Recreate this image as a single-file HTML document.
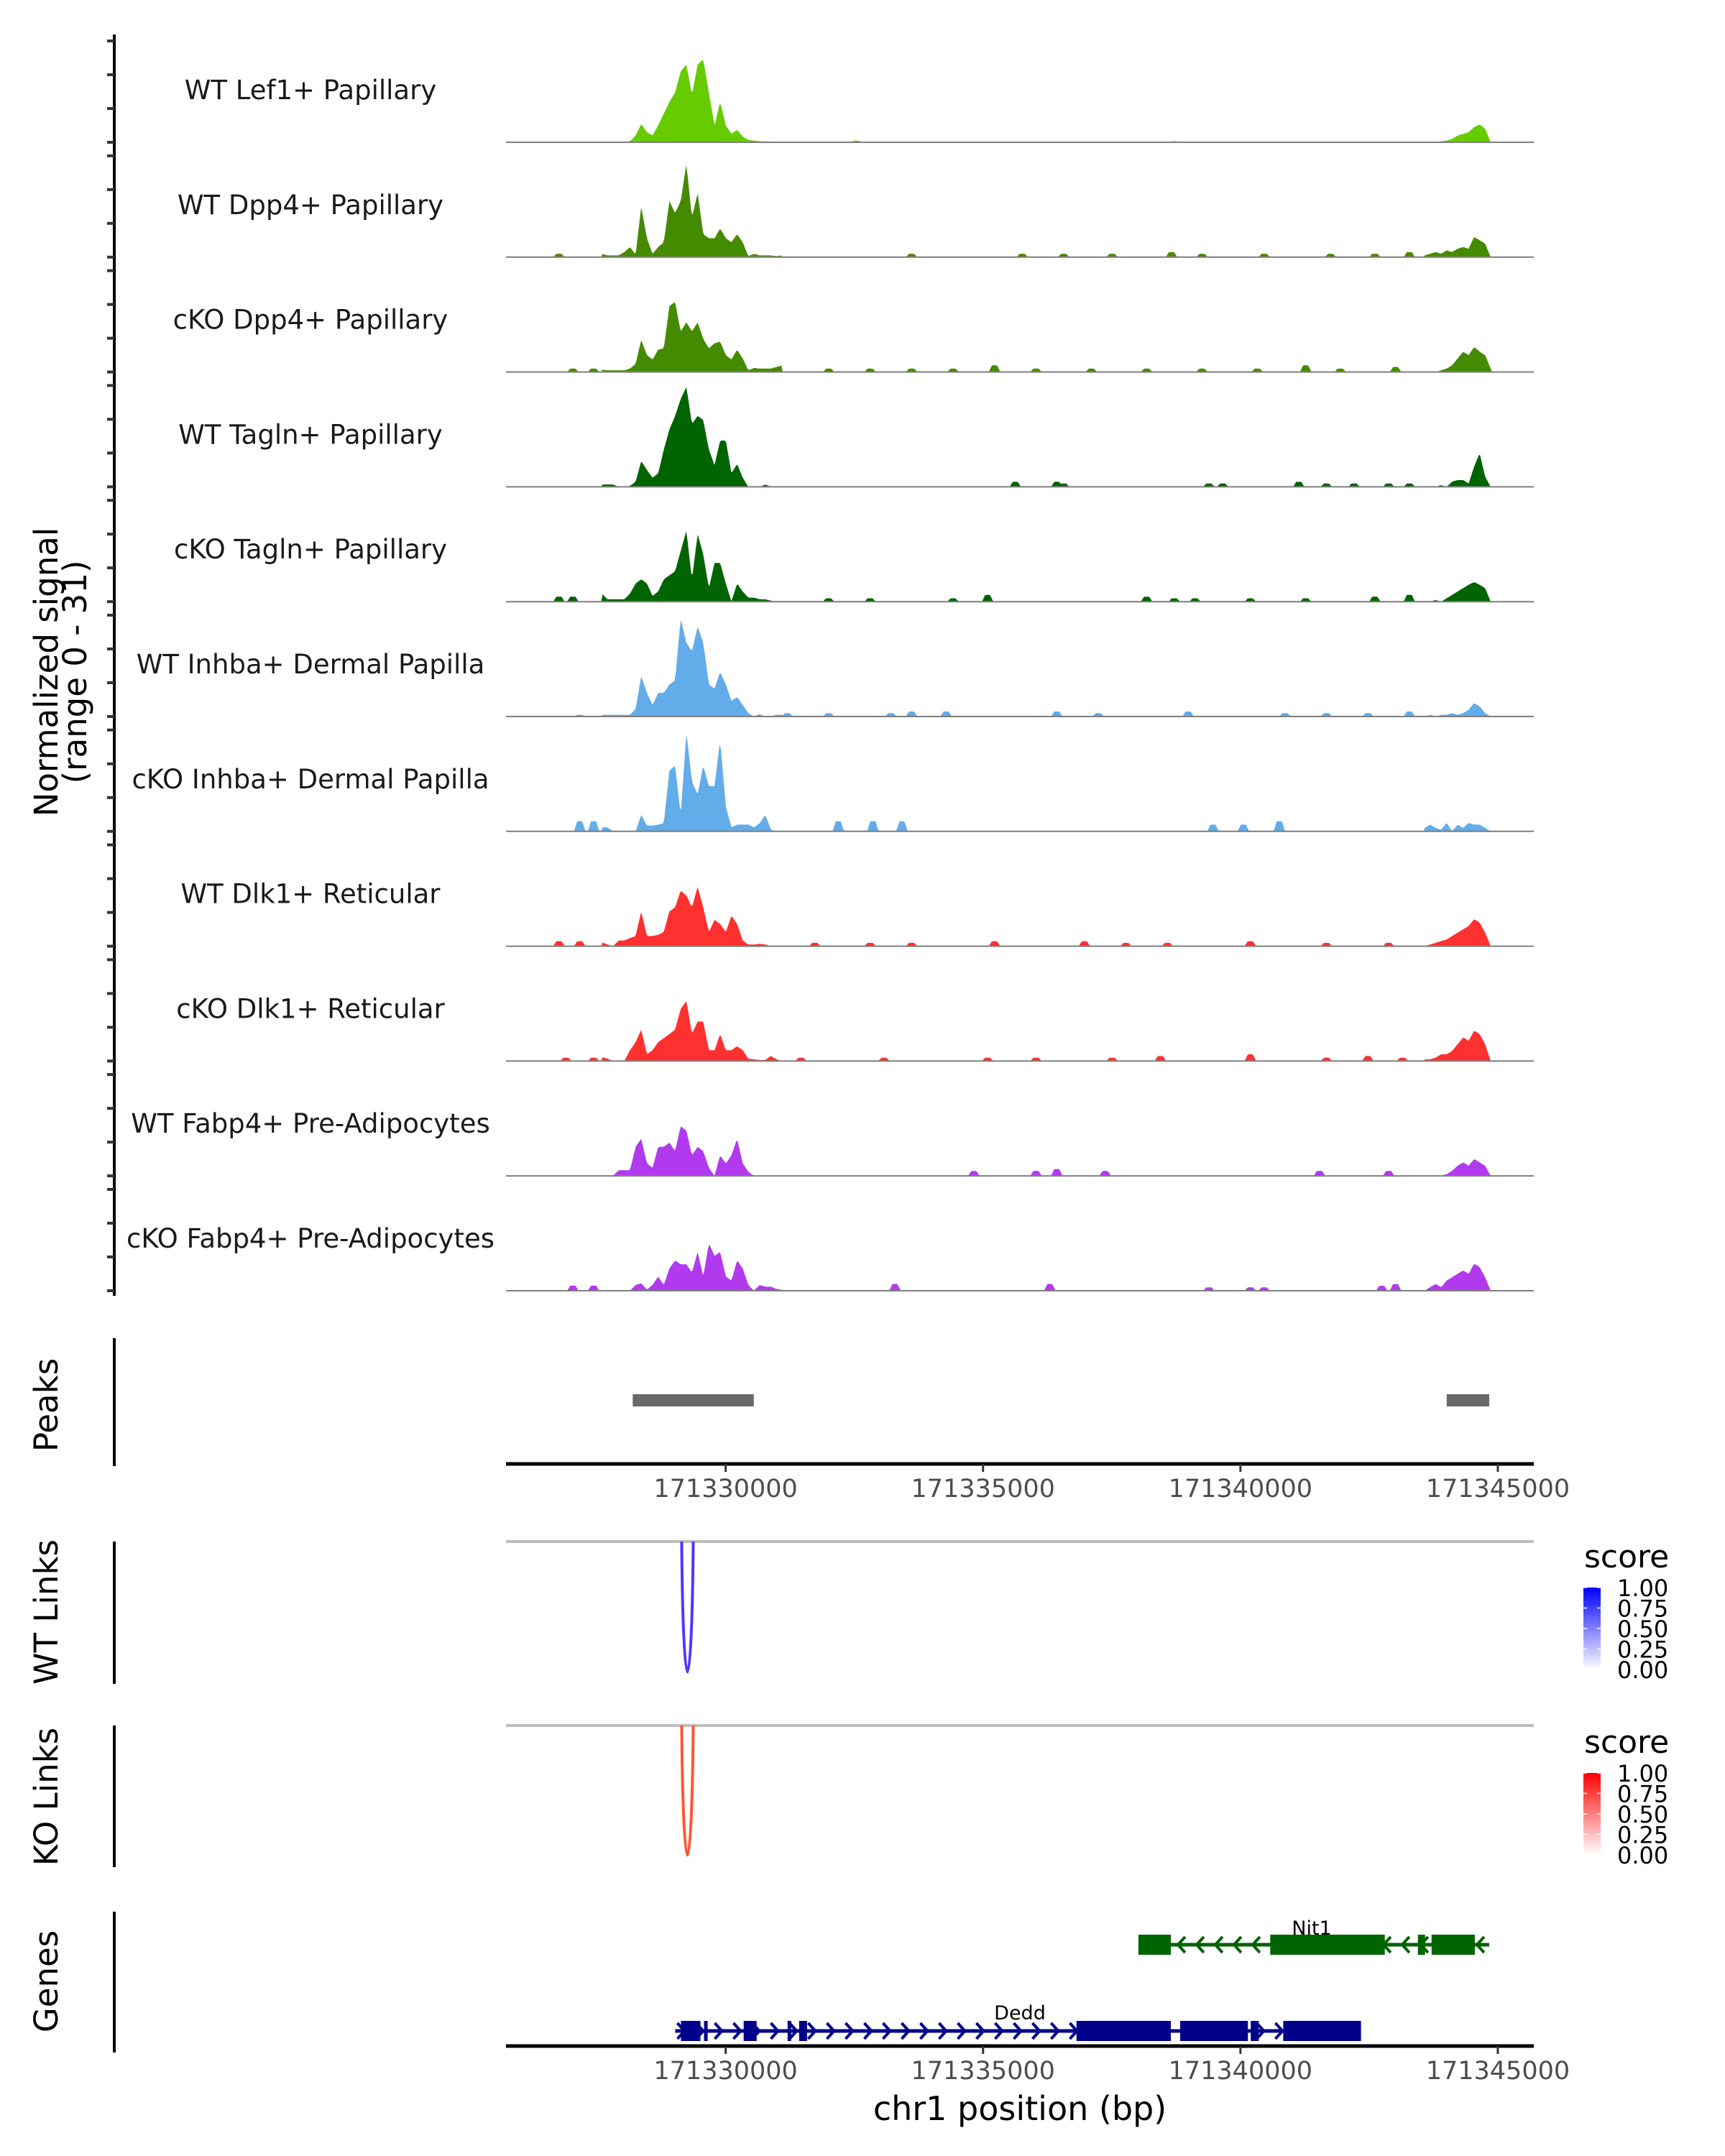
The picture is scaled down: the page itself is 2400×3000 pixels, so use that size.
<!DOCTYPE html>
<html><head><meta charset="utf-8">
<style>
html,body{margin:0;padding:0;background:#fff;}
svg{display:block;}
text{font-family:"DejaVu Sans","Liberation Sans",sans-serif;}
</style></head>
<body>
<svg id="chart" width="2400" height="3000" viewBox="0 0 2400 3000" xmlns="http://www.w3.org/2000/svg">
<rect x="0" y="0" width="2400" height="3000" fill="#fff"/>
<g id="tracks"></g>
<g id="lower"></g>
</svg>
<script>
// ---- data ----
const trackLabels = ["WT Lef1+ Papillary","WT Dpp4+ Papillary","cKO Dpp4+ Papillary","WT Tagln+ Papillary","cKO Tagln+ Papillary","WT Inhba+ Dermal Papilla","cKO Inhba+ Dermal Papilla","WT Dlk1+ Reticular","cKO Dlk1+ Reticular","WT Fabp4+ Pre-Adipocytes","cKO Fabp4+ Pre-Adipocytes"];
const trackColors = ["#66CC00","#458B00","#458B00","#006400","#006400","#63ACEA","#63ACEA","#FF3030","#FF3030","#B23AEE","#B23AEE"];
const mainStart = 171327594, mainStep = 109.5;
const mainVals = [
[0.2,0.2,0.2,0.2,0.2,0.3,2,5.4,3,2,5,8.5,12,14.7,21,23,14,23,24.5,14.7,5,12,5,2.5,3.7,1.7,0.7,0.5,0.3,0.3,0.2,0.2,0.1],
[1,0.5,0.5,0.5,1.5,3,0.7,15,5.6,1,3,4.4,16.6,13,16.6,27.6,11.7,19,6.8,5.6,5.6,8.5,5.6,4.4,6.8,4.4,0.3,1,0.5,0.5,0.5,0.3,0.5],
[0.7,0.5,0.5,0.5,0.5,1,2.4,9.5,5,3.7,6.6,7,19.5,20.8,12,14.7,12,14.7,9.8,7,8.5,9,5,3.7,6.6,4,0.5,1.2,1,1,1,1.5,2],
[0.7,0.7,0.7,0,0,0.3,1.5,7.6,5,2.7,4,11,17,21,26,29.6,18.6,21,19.8,11,6.4,13.7,13.7,4,6.8,2.7,0,0,0,0.7,0,0,0],
[2.4,0.7,0.7,0.7,0.7,2.4,5.4,6.6,5.4,1.7,3,6.6,7.8,9,15,21,6.6,20,14,4,11.5,11.5,5.4,0,5.4,3,1.2,1.2,0.7,0.7,0.3,0,0],
[0.5,0.5,0.5,0.5,0.5,0.5,2.2,12,7,3.4,7,7,9.5,10.7,29,21.8,19.3,26.6,21.8,9.5,8.3,13.2,9.5,4.6,5.8,3.4,1,0,0.7,0,0,0.5,0.5],
[1.2,1.2,0,0,0,0,0,4.9,1.7,1.7,2,2.4,18,19.5,4.9,29.3,14.7,11,19.5,13.4,13.4,27,7.3,1.2,2,2,2,1.2,2.4,4.9,0.5,0,0],
[1.2,0.5,0,1.7,1.7,2.4,3,10.3,3,3,3.4,4.2,10.3,11.5,16.4,15,11.5,17.6,11.5,4.2,7.8,6.6,4.2,9,6.6,1.7,0.5,0.5,0.7,0.5,0,0,0],
[1.2,0.7,0,0,0,3.2,5.6,9.3,2,3.2,5.6,6.8,8,9.3,15.4,17.8,8,11.7,11.7,3.2,3.2,8,3.2,3.2,4.4,3.2,0.7,0.5,0.3,0.3,1.5,0.5,0],
[0,0,0,1.7,1.7,1.7,8.6,11,3.7,2.4,8.6,8.6,9.8,7.3,14.7,13.4,6.1,8.6,7.3,2.4,0,6.1,3.7,6.1,11,3.7,1.2,0,0,0,0,0,0],
[0,0,0,0,0,0,1.7,2.2,0.3,1.7,4.2,1.7,6.6,9,7.8,7.8,5.4,11.5,4.2,14,10.3,11.5,4.2,3,9,6.6,1.7,0,1.7,1.2,1.2,0.5,0.3]
];
const rightStart = 171343577, rightStep = 107;
const rightVals = [
[0,0,0,0.3,0.5,1,2,2.5,3,4.5,5.3,4,0],
[0.5,1,1.5,1,2,1.5,2.5,3,2.5,6,5,4,0],
[0,0,0,0.5,1,2,4,6,5,7.4,6,5,1],
[0,0,0,0.5,0,1.5,2,2,1,6,10,3,0],
[0,0,0.5,0,1,2,3,4,5,5.8,5,4,0],
[0,0.5,0,0.5,0.5,1,0.5,1,2,4,3,1,0],
[1,2,1,0.5,2.5,0,2,1,2.5,2,2,1,0],
[0,0.5,1,1.5,2,3,4,5,6,8,7,4,0],
[0.5,0.5,1,2,2,3,5,7,6,9,8,5,0],
[0,0,0,0,0.5,1.5,3,4,3,5,4,3,0],
[0,1,2,1,3,4,5,6,5,8,7,4,0]
];
const bumpPos = [
[171332537,171338715],
[171326762,171333612,171335760,171336566,171337507,171338661,171339252,171340461,171341751,171342611,171343281],
[171327031,171327434,171332000,171332806,171333612,171334418,171335223,171336029,171337103,171338178,171339252,171340327,171341267,171341939,171343013],
[171335626,171336432,171336566,171339387,171339655,171341132,171341670,171342207,171342879,171343281],
[171326762,171327031,171332000,171332806,171334418,171335089,171338178,171338715,171339118,171340192,171341267,171342611,171343281],
[171327165,171331194,171332000,171333209,171333612,171334283,171336432,171337238,171338984,171340864,171341670,171342476,171343281],
[171327165,171327434,171332188,171332860,171333424,171339467,171340058,171340756],
[171326762,171327165,171331731,171332806,171333612,171335223,171336969,171337775,171338581,171340192,171341670,171342879],
[171326897,171327434,171331463,171333074,171335089,171336029,171337507,171338446,171340192,171341670,171342476,171343148],
[171334821,171336029,171336432,171337372,171341536,171342879],
[171327031,171327434,171333289,171336298,171339387,171340192,171340461,171342745,171343013]
];
const bumpVals = [
[0.5,0.3],
[1,1,1,1,1,1.5,1,1,1,1,1.5],
[1,1,1,1,1,1,2,1,1,1,1,1,2,1,1.5],
[1.5,1.5,1,1,1,1.5,1,1,1,1],
[1.5,1.5,1,1,1,2,1.5,1,1,1,1,1.5,2],
[0.5,1,1,1,1.5,1.5,1.5,1,1.5,1,1,1,1.5],
[3,3,3,3,3,2,2,3],
[1.5,1.5,1,1,1,1.5,1.5,1,1,1.5,1,1],
[1,1,1,1,1,1,1,1.5,2,1,1.5,1],
[1.5,1.5,2,1.5,1.5,1.5],
[1.5,1.5,2,2,1,1,1,1.5,2]
];
const yTicks = [0,10,20,30];
const xTicks = [171330000,171335000,171340000,171345000];
const peakStarts = [171328195,171344007];
const peakEnds = [171330546,171344833];
const linkStart = [171329146];
const linkEnd = [171329370];
const wtLinkScore = [0.85];
const koLinkScore = [0.85];
const legendTicks = ["1.00","0.75","0.50","0.25","0.00"];
const nit1Range = [171338018,171344833];
const nit1ExonStart = [171338018,171340579,171343447,171343713];
const nit1ExonEnd = [171338648,171342804,171343587,171344553];
const deddRange = [171329020,171342342];
const deddExonStart = [171329132,171329580,171330350,171331203,171331427,171336815,171338830,171340201,171340831];
const deddExonEnd = [171329510,171329650,171330602,171331273,171331581,171338648,171340145,171340355,171342342];

// ---- scales ----
const X0 = 704, X1 = 2134, BP0 = 171325733, BP1 = 171345699;
function xs(bp){ return X0 + (bp-BP0)/(BP1-BP0)*(X1-X0); }
const base0 = 198, trackGap = 159.8, pxPerUnit = 4.7;
function ys(i,v){ return base0 + i*trackGap - Math.min(v,31)*pxPerUnit; }
const NS = "http://www.w3.org/2000/svg";
function mk(tag, attrs, parent){ const e=document.createElementNS(NS,tag); for(const k in attrs) e.setAttribute(k,attrs[k]); parent.appendChild(e); return e; }

const tracks = document.getElementById('tracks');
const lower = document.getElementById('lower');

function signalAt(i, bp){
  let v = 0;
  const mv = mainVals[i]; const mEnd = mainStart + (mv.length-1)*mainStep;
  if(bp>=mainStart && bp<=mEnd){ const f=(bp-mainStart)/mainStep; const k=Math.floor(f); const t=f-k; v=Math.max(v, mv[k]*(1-t)+(mv[Math.min(k+1,mv.length-1)])*t); }
  const rv = rightVals[i]; const rEnd = rightStart+(rv.length-1)*rightStep;
  if(bp>=rightStart && bp<=rEnd){ const f=(bp-rightStart)/rightStep; const k=Math.floor(f); const t=f-k; v=Math.max(v, rv[k]*(1-t)+(rv[Math.min(k+1,rv.length-1)])*t); }
  const bpz=bumpPos[i], bvz=bumpVals[i];
  for(let j=0;j<bpz.length;j++){ const d=Math.abs(bp-bpz[j]); if(d<110) v=Math.max(v, bvz[j]*(d<50?1:(110-d)/60)); }
  return v;
}

const yAxis = mk('line',{x1:159,y1:48,x2:159,y2:1803,stroke:'#000','stroke-width':4},tracks);



for(let i=0;i<trackLabels.length;i++){
  const g = mk('g',{},tracks);
  
  
  const base = base0 + i*trackGap;
  let d = 'M'+X0+','+base;
  for(let bp=BP0; bp<=BP1; bp+=25){ d += ' L'+xs(bp).toFixed(1)+','+ys(i,signalAt(i,bp)).toFixed(1); }
  d += ' L'+X1+','+base+' Z';
  const a = mk('path',{d:d,fill:trackColors[i],stroke:'none'},g);
  
  
  const bl = mk('line',{x1:X0,y1:base,x2:X1,y2:base,stroke:'#7f7f7f','stroke-width':2},g);
  
  
  const t = mk('text',{x:432,y:base-60,'font-size':37,'text-anchor':'middle',fill:'#1a1a1a'},g);
  t.textContent = trackLabels[i];
  
  
  for(const tv of yTicks){
    const tk = mk('line',{x1:149,y1:ys(i,tv),x2:159,y2:ys(i,tv),stroke:'#333','stroke-width':4},g);
    
    
  }
}
const yt = mk('text',{transform:'translate(80,935) rotate(-90)','font-size':45,'text-anchor':'middle',fill:'#000'},tracks);


const ts1 = mk('tspan',{x:0,y:0},yt); ts1.textContent='Normalized signal';
const ts2 = mk('tspan',{x:0,y:40},yt); ts2.textContent='(range 0 - 31)';

function panelTitle(txt, cy, name){
  const t = mk('text',{transform:'translate(80,'+cy+') rotate(-90)','font-size':45,'text-anchor':'middle',fill:'#000'},lower);
  t.textContent = txt;
  
  
}
function vline(y1,y2,name){
  const l = mk('line',{x1:159,y1:y1,x2:159,y2:y2,stroke:'#000','stroke-width':4},lower);
  
  
}
function xAxis(y,name){
  const g = mk('g',{},lower);
  
  
  mk('line',{x1:X0,y1:y,x2:X1,y2:y,stroke:'#000','stroke-width':5},g);
  for(const tv of xTicks){
    const tk = mk('line',{x1:xs(tv),y1:y,x2:xs(tv),y2:y+11,stroke:'#333','stroke-width':3},g);
    
    
    const tl = mk('text',{x:xs(tv),y:y+46,'font-size':35,'text-anchor':'middle',fill:'#4d4d4d'},g);
    tl.textContent = String(tv);
    
    
  }
}

// Peaks
vline(1862,2040,'peaks-axis');
panelTitle('Peaks',1955,'peaks-title');
for(let j=0;j<peakStarts.length;j++){
  const r = mk('rect',{x:xs(peakStarts[j]),y:1940,width:xs(peakEnds[j])-xs(peakStarts[j]),height:17,fill:'#696969'},lower);
  
  
}
xAxis(2037,'peaks-x-axis');

function linkPanel(top,bottom,scores,color,title,ttlY,legY,grad,nm){
  vline(top,bottom+16,nm+'-axis');
  panelTitle(title,ttlY,nm+'-title');
  const gl = mk('line',{x1:X0,y1:top,x2:X1,y2:top,stroke:'#bebebe','stroke-width':4},lower);
  
  
  for(let j=0;j<linkStart.length;j++){
    const xa=xs(linkStart[j]), xb=xs(linkEnd[j]), depth=(bottom-top)*scores[j]/0.85;
    const p = mk('path',{d:'M'+xa+','+top+' C'+(xa+2)+','+(top+depth*1.33)+' '+(xb-2)+','+(top+depth*1.33)+' '+xb+','+top,fill:'none',stroke:color,'stroke-width':4},lower);
    
    
  }
  const lg = mk('g',{},lower);
  
  
  const st = mk('text',{x:2204,y:legY,'font-size':44,fill:'#000'},lg); st.textContent='score';
  mk('rect',{x:2203,y:legY+28,width:24,height:114,fill:'url(#'+grad+')'},lg);
  for(let k=0;k<legendTicks.length;k++){
    const ty = legY+28+k*28.5;
    mk('line',{x1:2203,y1:ty,x2:2208,y2:ty,stroke:'#fff','stroke-width':1.5},lg);
    mk('line',{x1:2222,y1:ty,x2:2227,y2:ty,stroke:'#fff','stroke-width':1.5},lg);
    const lt = mk('text',{x:2250,y:ty+12,'font-size':32,fill:'#000'},lg); lt.textContent=legendTicks[k];
  }
}
const defs = mk('defs',{},document.getElementById('chart'));
const g1 = mk('linearGradient',{id:'gradB',x1:0,y1:1,x2:0,y2:0},defs);
mk('stop',{offset:0,'stop-color':'#ffffff'},g1); mk('stop',{offset:1,'stop-color':'#0000ff'},g1);
const g2 = mk('linearGradient',{id:'gradR',x1:0,y1:1,x2:0,y2:0},defs);
mk('stop',{offset:0,'stop-color':'#ffffff'},g2); mk('stop',{offset:1,'stop-color':'#ff0000'},g2);
linkPanel(2145,2327,wtLinkScore,'#5533FF','WT Links',2243,2181,'gradB','wt-links');
linkPanel(2401,2582,koLinkScore,'#FF5533','KO Links',2500,2439,'gradR','ko-links');

// Genes
vline(2660,2856,'genes-axis');
panelTitle('Genes',2757,'genes-title');
function gene(name,range,es,ee,cy,color,dir,lx,ly){
  const g = mk('g',{},lower);
  
  
  mk('line',{x1:xs(range[0]),y1:cy,x2:xs(range[1]),y2:cy,stroke:color,'stroke-width':5},g);
  const xa=xs(range[0]), xb=xs(range[1]);
  for(let x=xa+8; x<xb; x+=26){
    const d = dir>0 ? 'M'+(x-5)+','+(cy-11)+' L'+(x+5)+','+cy+' L'+(x-5)+','+(cy+11) : 'M'+(x+5)+','+(cy-11)+' L'+(x-5)+','+cy+' L'+(x+5)+','+(cy+11);
    mk('path',{d:d,fill:'none',stroke:color,'stroke-width':4},g);
  }
  for(let j=0;j<es.length;j++){
    mk('rect',{x:xs(es[j]),y:cy-14,width:Math.max(4,xs(ee[j])-xs(es[j])),height:28,fill:color},g);
  }
  const t = mk('text',{x:lx,y:ly,'font-size':27,'text-anchor':'middle',fill:'#000'},g);
  t.textContent = name;
}
gene('Nit1',nit1Range,nit1ExonStart,nit1ExonEnd,2706,'#006400',-1,1825,2692);
gene('Dedd',deddRange,deddExonStart,deddExonEnd,2826,'#00008B',1,1419,2810);
xAxis(2847,'genes-x-axis');
const xt = mk('text',{x:1419,y:2950,'font-size':46,'text-anchor':'middle',fill:'#000'},lower);
xt.textContent='chr1 position (bp)';


</script>
</body></html>
